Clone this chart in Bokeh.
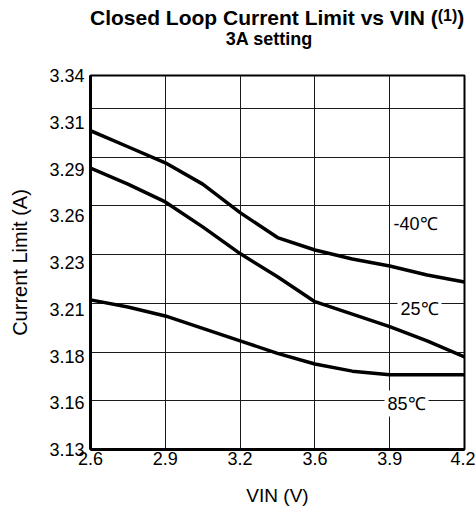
import numpy as np
from bokeh.plotting import figure
from bokeh.layouts import column
from bokeh.models import FixedTicker, Label, Range1d, Div
from bokeh.embed import file_html
from bokeh.resources import INLINE

# ---------------- data ----------------
vin = [2.6, 2.76, 2.92, 3.08, 3.24, 3.40, 3.56, 3.72, 3.88, 4.04, 4.2]
cur_m40 = [3.309, 3.300, 3.291, 3.279, 3.263, 3.249, 3.242, 3.237, 3.233, 3.228, 3.224]
cur_25 = [3.288, 3.279, 3.269, 3.255, 3.240, 3.227, 3.213, 3.206, 3.199, 3.191, 3.182]
cur_85 = [3.214, 3.210, 3.205, 3.198, 3.191, 3.184, 3.178, 3.174, 3.172, 3.172, 3.172]
series_names = ["-40℃", "25℃", "85℃"]
x_tick_labels = ["2.6", "2.9", "3.2", "3.6", "3.9", "4.2"]
y_tick_labels = ["3.13", "3.16", "3.18", "3.21", "3.23", "3.26", "3.29", "3.31", "3.34"]
title_main = "Closed Loop Current Limit vs VIN ("
title_sup = "(1)"
title_close = ")"
title_line2 = "3A setting"
x_label = "VIN (V)"
y_label = "Current Limit (A)"

# ---------------- layout ----------------
X0, X1 = 2.6, 4.2
Y0, Y1 = 3.13, 3.34
W, H = 475, 512
TH = 50                      # height of the title block
ML, MR = 90, 11
MT = 75 - TH
FW, FH = W - ML - MR, 374
PH = H - TH
MB = PH - MT - FH
FONT = "Liberation Sans"
GRID_DY = 0.02737  # horizontal grid spacing as drawn in the reference


def dx(px):
    return X0 + (px - ML) / FW * (X1 - X0)


def dy(py):
    return Y1 - (py - (MT + TH)) / FH * (Y1 - Y0)


x_ticks = [round(X0 + i * (X1 - X0) / (len(x_tick_labels) - 1), 5) for i in range(len(x_tick_labels))]
y_ticks = [round(Y0 + i * (Y1 - Y0) / (len(y_tick_labels) - 1), 5) for i in range(len(y_tick_labels))]
y_grid = [round(Y0 + k * GRID_DY, 5) for k in range(1, 8)]

# ---------------- title block (real text, with superscript) ----------------
title_html = (
    f'<div style="position:relative;width:{W}px;height:{TH}px;overflow:hidden;'
    f"font-family:'{FONT}',Arial,sans-serif;font-weight:bold;color:black;\">"
    f'<div style="position:absolute;left:{ML}px;width:{FW}px;top:7px;text-align:center;'
    f'font-size:21px;line-height:21px;white-space:nowrap;">{title_main}'
    f'<sup style="font-size:16px;vertical-align:4px;line-height:0;">{title_sup}</sup>{title_close}</div>'
    f'<div style="position:absolute;left:{ML}px;width:358px;top:30px;text-align:center;'
    f'font-size:18px;line-height:18px;white-space:nowrap;">{title_line2}</div>'
    f'</div>'
)
title_div = Div(text=title_html, width=W, height=TH, margin=(0, 0, 0, 0))

p = figure(width=W, height=PH, x_range=Range1d(X0, X1), y_range=Range1d(Y0, Y1),
           output_backend="svg", toolbar_location=None,
           min_border_left=ML, min_border_right=MR, min_border_top=MT, min_border_bottom=MB)
p.margin = (0, 0, 0, 0)
p.background_fill_color = "white"
p.border_fill_color = "white"
p.outline_line_color = "black"
p.outline_line_width = 2

p.xaxis.ticker = FixedTicker(ticks=x_ticks)
p.yaxis.ticker = FixedTicker(ticks=y_ticks)
p.xaxis.major_label_overrides = {t: l for t, l in zip(x_ticks, x_tick_labels)}
p.yaxis.major_label_overrides = {t: l for t, l in zip(y_ticks, y_tick_labels)}
p.xgrid.ticker = FixedTicker(ticks=x_ticks)
p.ygrid.ticker = FixedTicker(ticks=y_grid)
p.grid.grid_line_color = "#1a1a1a"
p.grid.grid_line_width = 1

for ax in (p.xaxis, p.yaxis):
    ax.axis_line_color = "black"
    ax.axis_line_width = 3
    ax.major_tick_in = 0
    ax.major_tick_out = 0
    ax.minor_tick_in = 0
    ax.minor_tick_out = 0
    ax.major_label_text_font = FONT
    ax.major_label_text_font_size = "18px"
    ax.major_label_text_color = "black"
    ax.axis_label_text_font = FONT
    ax.axis_label_text_font_style = "normal"
    ax.axis_label_text_color = "black"

p.xaxis.major_label_standoff = 2
p.yaxis.major_label_standoff = 6
p.xaxis.axis_label = x_label
p.xaxis.axis_label_text_font_size = "19px"
p.xaxis.axis_label_standoff = 17
p.yaxis.axis_label = y_label
p.yaxis.axis_label_text_font_size = "20px"
p.yaxis.axis_label_standoff = 15

for ys in (cur_m40, cur_25, cur_85):
    p.line(vin, ys, line_color="black", line_width=3.5, line_join="round", line_cap="round")

# series labels
lab_pos = [(393, 223, "left", False), (419, 308, "center", True), (406, 403, "center", True)]
for name, (px, py, al, bg) in zip(series_names, lab_pos):
    kw = dict(background_fill_color="white", padding=3) if bg else {}
    p.add_layout(Label(x=dx(px), y=dy(py), text=name, text_align=al, text_baseline="middle",
                       text_font=FONT, text_font_size="18px", text_color="black", **kw))

layout = column(title_div, p, spacing=0)
open("out.html", "w").write(file_html(layout, INLINE))
